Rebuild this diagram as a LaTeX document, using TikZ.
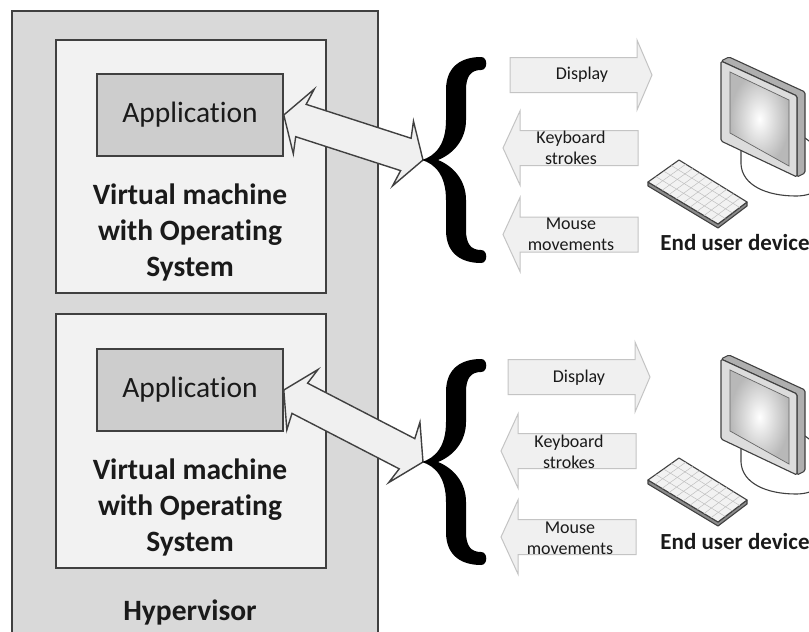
\documentclass[tikz,border=0pt]{standalone}
\usepackage{fontspec}
\setmainfont{Carlito}[Ligatures=NoCommon]
\usetikzlibrary{calc}

\definecolor{hypfill}{HTML}{D9D9D9}
\definecolor{vmfill}{HTML}{F2F2F2}
\definecolor{appfill}{HTML}{CDCDCD}
\definecolor{edge}{HTML}{404040}
\definecolor{flowfill}{HTML}{F0F0F0}
\definecolor{flowedge}{HTML}{C4C4C4}
\definecolor{ink}{HTML}{1A1A1A}
\definecolor{devframe}{HTML}{DCDCDC}
\definecolor{devside}{HTML}{AFAFAF}

\tikzset{
  box/.style={draw=edge, line width=1.6pt},
  hypbox/.style={box, fill=hypfill, anchor=north west, inner sep=0pt},
  vmbox/.style={box, fill=vmfill, anchor=north west, inner sep=0pt, minimum width=270pt},
  appbox/.style={box, fill=appfill, minimum width=186pt, minimum height=82pt, inner sep=0pt,
    font=\fontsize{29.5}{34}\selectfont, text=ink},
  vmtext/.style={font=\bfseries\fontsize{29.5}{36}\selectfont, align=center, text=ink, inner sep=0pt},
  flow/.style={fill=flowfill, draw=flowedge, line width=1pt, line join=miter},
  flowtext/.style={font=\fontsize{18}{21}\selectfont, align=center, text=ink, inner sep=0pt},
  dblarrow/.style={fill=flowfill, draw=edge, line width=1.4pt, line join=miter},
  devtext/.style={font=\bfseries\fontsize{23}{27}\selectfont, text=ink, inner sep=0pt},
  devedge/.style={draw=black!75, line width=1.1pt, line join=round},
  % right-pointing flow arrow, origin at the middle of the tail
  pics/outflow/.style={code={
    \draw[flow] (0,-17.5) -- (127,-17.5) -- (127,-35) -- (142,0) -- (127,35) -- (127,17.5) -- (0,17.5) -- cycle;}},
  % left-pointing flow arrow, origin at the middle of the tail
  pics/inflow/.style={code={
    \draw[flow] (0,-17.5) -- (-118,-17.5) -- (-118,-37) -- (-135,0) -- (-118,37) -- (-118,17.5) -- (0,17.5) -- cycle;}},
  % curly brace, origin at its point
  pics/curlybrace/.style={code={
    \fill[black] (58,-103) .. controls (40,-103) and (23,-95) .. (23,-70) -- (23,-40)
      .. controls (23,-15) and (12,-4) .. (-1,0)
      .. controls (12,4) and (23,15) .. (23,40) -- (23,70)
      .. controls (23,95) and (40,103) .. (58,103)
      .. controls (65,103) and (65,90) .. (58,90)
      .. controls (48,90) and (43,84) .. (43,70) -- (43,40)
      .. controls (43,20) and (30,6) .. (15,0)
      .. controls (30,-6) and (43,-20) .. (43,-40) -- (43,-70)
      .. controls (43,-84) and (48,-90) .. (58,-90)
      .. controls (65,-90) and (65,-103) .. (58,-103) -- cycle;}},
  % desktop computer: monitor, stand and keyboard; origin at the monitor's top left corner
  pics/desktop/.style={code={
    \draw[devedge, fill=white] (20,88) -- (20,104) .. controls (21,125) and (45,136) .. (75,136)
      .. controls (92,136) and (104,128) .. (104,115) .. controls (104,100) and (95,85) .. (84,78) -- cycle;
    \draw[devedge, fill=devside, rounded corners=1.5pt] (0,1) -- (8,-3) -- (84,32) -- (84,113) -- (76,117) -- (76,36) -- cycle;
    \draw[devedge, fill=devframe, rounded corners=1.5pt] (0,1) -- (76,36) -- (76,117) -- (0,81) -- cycle;
    \shade[inner color=white, outer color=black!28] (9,12) -- (68,40) -- (68,106) -- (9,73) -- cycle;
    \draw[black!60, line width=0.7pt] (9,12) -- (68,40) -- (68,106) -- (9,73) -- cycle;
    \draw[devedge, fill=black!45] (-73,122) -- (-3,164) -- (26,142) -- (26,146) -- (-3,168) -- (-73,126) -- cycle;
    \draw[devedge, fill=black!5] (-73,122) -- (-42,100) -- (26,142) -- (-3,164) -- cycle;
    \foreach \k in {1,...,9}
      \draw[black!25, line width=0.5pt] ($(-42,100)!\k/10!(26,142)$) -- ($(-73,122)!\k/10!(-3,164)$);
    \foreach \r in {1,2,3}
      \draw[black!25, line width=0.5pt] ($(-42,100)!\r/4!(-73,122)$) -- ($(26,142)!\r/4!(-3,164)$);
  }},
}

% wide two-headed block arrow between two named points
\newcommand\blockarrow[2]{%
  \draw[dblarrow] let \p1=($(#2)-(#1)$), \n1={atan2(\y1,\x1)}, \n2={veclen(\x1,\y1)} in
    [shift={(#1)}, rotate=\n1]
    (0,0) -- (21,-34) -- (18,-17) -- ({\n2-18},-17) -- ({\n2-21},-34) -- ({\n2},0)
    -- ({\n2-21},34) -- ({\n2-18},17) -- (18,17) -- (21,34) -- cycle;}

\begin{document}
\begin{tikzpicture}[x=1pt, y=-1pt]
  \useasboundingbox[fill=white] (0,0) rectangle (809,632);

  % host side
  \node[hypbox, minimum width=366pt, minimum height=640pt] (hyp) at (11,10) {};
  \node[vmbox, minimum height=253pt] (vm1) at (55,39) {};
  \node[vmbox, minimum height=254pt] (vm2) at (55,313) {};
  \node[appbox] (app1) at (190,115) {Application};
  \node[appbox] (app2) at (190,390) {Application};
  \node[vmtext] (vm1label) at (190,232) {Virtual machine\\with Operating\\System};
  \node[vmtext] (vm2label) at (190,507) {Virtual machine\\with Operating\\System};
  \node[vmtext] (hyplabel) at (190,612) {Hypervisor};

  % brace points where the remote session fans out
  \coordinate (tip1) at (423,160);
  \coordinate (tip2) at (423,462);

  % session links
  \blockarrow{app1.east}{tip1}
  \blockarrow{app2.east}{tip2}

  \pic at (tip1) {curlybrace};
  \pic at (tip2) {curlybrace};

  % traffic between session and device
  \pic at (510,75) {outflow};
  \pic at (638,148) {inflow};
  \pic at (638,234.5) {inflow};
  \node[flowtext] (disp1) at (582,75) {Display};
  \node[flowtext] (keys1) at (571,148) {Keyboard\\strokes};
  \node[flowtext] (mouse1) at (571,234) {Mouse\\movements};

  \pic at (508,377) {outflow};
  \pic at (636,451) {inflow};
  \pic at (636,537) {inflow};
  \node[flowtext] (disp2) at (579,378) {Display};
  \node[flowtext] (keys2) at (569,452) {Keyboard\\strokes};
  \node[flowtext] (mouse2) at (570,538) {Mouse\\movements};

  % end user devices
  \pic at (721,60) {desktop};
  \pic at (721,358) {desktop};
  \node[devtext] (dev1) at (735,243) {End user device};
  \node[devtext] (dev2) at (735,542) {End user device};
\end{tikzpicture}
\end{document}
